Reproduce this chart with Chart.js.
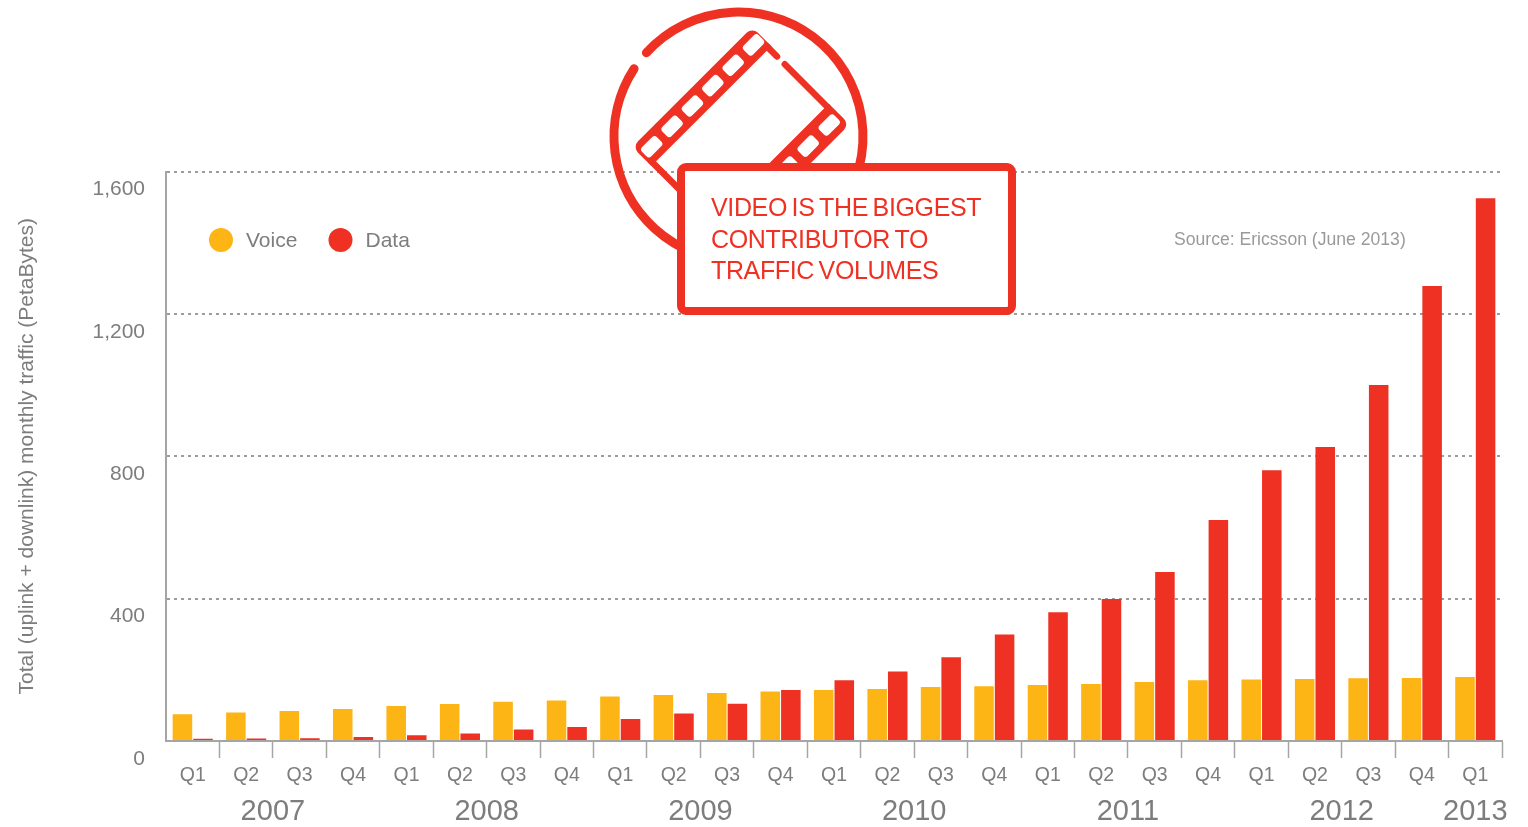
<!DOCTYPE html>
<html>
<head>
<meta charset="utf-8">
<title>Mobile traffic</title>
<script src="https://cdn.jsdelivr.net/npm/chart.js@4"></script>
<style>
  html, body { margin: 0; background: #fff; }
  canvas { display: block; }
</style>
</head>
<body>
<canvas id="trafficChart" width="1528" height="827"></canvas>
<script>
const quarters = ["Q1","Q2","Q3","Q4","Q1","Q2","Q3","Q4","Q1","Q2","Q3","Q4","Q1","Q2","Q3","Q4","Q1","Q2","Q3","Q4","Q1","Q2","Q3","Q4","Q1"];
const voice = [75,80,84,90,98,104,110,114,125,129,135,139,143,146,152,154,157,160,166,171,173,174,176,177,180];
const data = [6,7,8,11,16,21,32,39,62,77,105,143,171,195,235,299,362,399,475,621,761,826,1000,1278,1525];
const years = ["2007","2008","2009","2010","2011","2012","2013"];
const yearStart = [0,4,8,12,16,20,24];
const yearEnd = [3,7,11,15,19,23,24];
const calloutLines = ["VIDEO IS THE BIGGEST","CONTRIBUTOR TO","TRAFFIC VOLUMES"];
const sourceNote = "Source: Ericsson (June 2013)";

const RED = "#ef3124";
const AMBER = "#fdb515";
const GREY = "#7d7d7d";
const FONT = '"Liberation Sans", Arial, sans-serif';

// year captions under the quarter labels
const yearLabels = {
  id: "yearLabels",
  afterDraw(chart) {
    const { ctx, scales } = chart;
    ctx.save();
    ctx.font = "29px " + FONT;
    ctx.fillStyle = GREY;
    ctx.textAlign = "center";
    ctx.textBaseline = "middle";
    years.forEach((y, i) => {
      const cx = (scales.x.getPixelForValue(yearStart[i]) + scales.x.getPixelForValue(yearEnd[i])) / 2;
      ctx.fillText(y, cx, 812);
    });
    ctx.restore();
  }
};

// dot legend and source note inside the plot
const keyAndSource = {
  id: "keyAndSource",
  afterDraw(chart) {
    const { ctx } = chart;
    const dotX = [221, 340.5];
    ctx.save();
    ctx.textBaseline = "middle";
    chart.data.datasets.forEach((ds, i) => {
      ctx.fillStyle = ds.backgroundColor;
      ctx.beginPath();
      ctx.arc(dotX[i], 240, 12, 0, Math.PI * 2);
      ctx.fill();
      ctx.fillStyle = GREY;
      ctx.font = "21px " + FONT;
      ctx.fillText(ds.label, dotX[i] + 25, 241);
    });
    ctx.font = "17.6px " + FONT;
    ctx.fillStyle = "#9a9a9a";
    ctx.fillText(sourceNote, 1174, 240);
    ctx.restore();
  }
};

// film badge and the boxed message on top of the gridlines
const filmCallout = {
  id: "filmCallout",
  afterDraw(chart) {
    const { ctx } = chart;
    ctx.save();
    ctx.strokeStyle = RED;
    ctx.fillStyle = RED;
    ctx.lineCap = "round";
    ctx.lineJoin = "round";

    // ring with a small break at upper left
    ctx.lineWidth = 9;
    ctx.beginPath();
    ctx.arc(738.5, 136.5, 124.5, -137.7 * Math.PI / 180, 213 * Math.PI / 180);
    ctx.stroke();

    // film frame, tilted 45 degrees
    ctx.save();
    ctx.translate(637, 147);
    ctx.rotate(-Math.PI / 4);

    // the two perforated strips
    ctx.beginPath();
    ctx.roundRect(-3.3, -3.3, 169.6, 27, [8, 8, 0, 0]);
    ctx.roundRect(40, 105, 126.3, 29.3, [0, 0, 8, 0]);
    ctx.fill();

    // frame edges and the short stub before the gap
    ctx.lineWidth = 6.5;
    ctx.beginPath();
    ctx.moveTo(0, 20);
    ctx.lineTo(0, 135);
    ctx.moveTo(163, 20);
    ctx.lineTo(163, 35);
    ctx.moveTo(163, 46);
    ctx.lineTo(163, 106);
    ctx.stroke();

    // sprocket holes
    ctx.fillStyle = "#fff";
    ctx.beginPath();
    for (let i = 0; i < 6; i++) {
      ctx.roundRect(10.6 + i * 28.8 - 10.5, 3.7, 21, 13, 3.5);
    }
    for (let i = 0; i < 3; i++) {
      ctx.roundRect(151.5 - i * 29.8 - 10.5, 113.9, 21, 13, 3.5);
    }
    ctx.fill();
    ctx.restore();

    // message box
    ctx.fillStyle = "#fff";
    ctx.lineWidth = 8;
    ctx.beginPath();
    ctx.roundRect(681, 167, 331, 144, 5);
    ctx.fill();
    ctx.stroke();

    ctx.fillStyle = RED;
    ctx.font = "25px " + FONT;
    ctx.letterSpacing = "-0.36px";
    ctx.wordSpacing = "-2px";
    ctx.textBaseline = "alphabetic";
    calloutLines.forEach((line, i) => ctx.fillText(line, 711, 216 + i * 31.7));
    ctx.restore();
  }
};

new Chart(document.getElementById("trafficChart"), {
  type: "bar",
  data: {
    labels: quarters,
    datasets: [
      { label: "Voice", data: voice, backgroundColor: AMBER },
      { label: "Data", data: data, backgroundColor: RED }
    ]
  },
  options: {
    responsive: false,
    animation: false,
    categoryPercentage: 0.77,
    barPercentage: 0.95,
    layout: { padding: { left: 0, right: 26, top: 171.5, bottom: 0 } },
    plugins: { legend: { display: false }, tooltip: { enabled: false } },
    scales: {
      x: {
        afterFit(scale) {
          scale.height = 86;
          scale.paddingLeft = 0;
          scale.paddingRight = 0;
        },
        grid: {
          drawOnChartArea: false,
          tickLength: 17,
          tickWidth: 1.5,
          tickColor: (c) => (c.index === 0 ? "rgba(0,0,0,0)" : "#a5a5a5")
        },
        border: { color: "#a5a5a5", width: 2 },
        ticks: {
          color: GREY,
          padding: 6,
          maxRotation: 0,
          autoSkip: false,
          font: { family: FONT, size: 19.5 }
        }
      },
      y: {
        min: 0,
        max: 1600,
        afterFit(scale) {
          scale.width = 166;
          scale.paddingTop = 0;
          scale.paddingBottom = 0;
        },
        title: {
          display: true,
          text: "Total (uplink + downlink) monthly traffic (PetaBytes)",
          color: GREY,
          padding: { top: 14.5, bottom: 0 },
          font: { family: FONT, size: 21 }
        },
        grid: {
          drawTicks: false,
          lineWidth: 2,
          color: (c) => (c.tick.value === 0 ? "rgba(0,0,0,0)" : "#9c9c9c")
        },
        border: { color: "#a5a5a5", width: 2, dash: [3, 4] },
        ticks: {
          stepSize: 400,
          color: GREY,
          padding: 21,
          // blank first line drops each number below its gridline
          callback: (v) => ["", v.toLocaleString("en-US")],
          font: { family: FONT, size: 21, lineHeight: "36px" }
        }
      }
    }
  },
  plugins: [yearLabels, keyAndSource, filmCallout]
});
</script>
</body>
</html>
